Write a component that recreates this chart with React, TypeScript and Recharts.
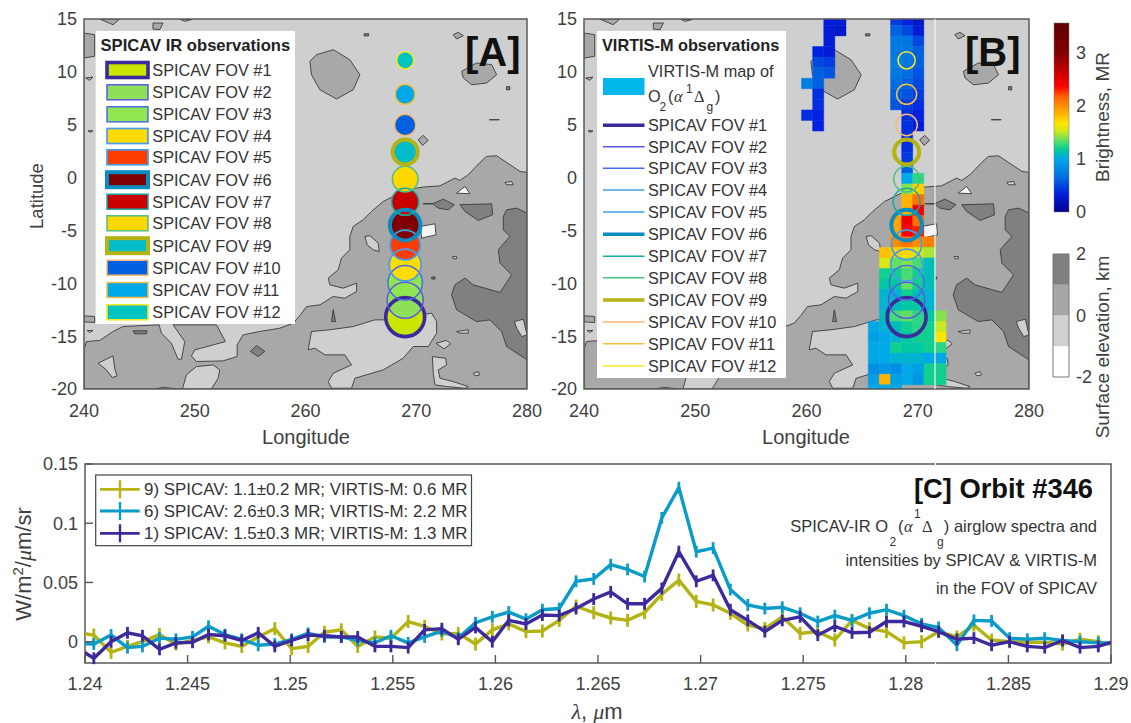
import {
  ComposedChart,
  ErrorBar,
  Line,
  ReferenceArea,
  ReferenceLine,
  Scatter,
  XAxis,
  YAxis,
} from "recharts";

const FONT = "'Liberation Sans', Arial, sans-serif";
const MATH = "'Liberation Serif', serif";
const INK = "#404040";

// ---- terrain contours [lon, lat] ----
const terrainMid = [
  [[280, 0.49], [279.37, 0.58], [278.16, 1.43], [277.26, 2.06], [276.35, 2], [275.75, 1.43], [274.7, 0.27], [273.95, -0.27], [273.49, -0.05], [272.14, -0.78], [270.63, -0.9], [269.13, -1.15], [267.02, -2.26], [265.96, -3.2], [265.21, -3.99], [264.31, -4.62], [264, -5.57], [264, -6.83], [263.25, -7.62], [262.95, -8.73], [262.05, -9.51], [262.2, -10.15], [263.4, -10.46], [264.61, -9.99], [264.61, -10.78], [263.55, -11.41], [262.5, -11.25], [261.3, -12.04], [260.09, -12.2], [259.49, -13.05], [258.89, -13.77], [257.68, -14.25], [255.87, -14.56], [254.37, -14.88], [253.83, -15.82], [253.83, -16.93], [252.56, -17.34], [250.15, -17.4], [249.7, -16.87], [250, -16.3], [252.77, -15.51], [251.96, -13.93], [248.04, -13.93], [249.1, -15.51], [248.8, -17.18], [248.49, -17.18], [247.89, -15.67], [246.99, -14.72], [246.78, -13.93], [243.52, -14.09], [242.62, -14.56], [241.42, -15.41], [240.21, -15.51], [240, -16.3], [240, -20], [280, -20], [280, 0.49]],
  [[260.39, 10.99], [260.99, 11.62], [262.5, 12.1], [264, 11.15], [264.91, 9.73], [264.31, 8.31], [262.8, 7.43], [261.3, 8.31], [260.54, 9.73], [260.39, 10.99]],
  [[274.1, 10.05], [275.45, 10.84], [276.81, 10.68], [277.26, 9.73], [276.35, 8.94], [275, 8.78], [274.25, 9.42], [274.1, 10.05]],
  [[241.42, 15], [243.22, 15], [242.62, 14.46], [241.42, 15]],
  [[246.23, 14.62], [247.14, 14.62], [246.84, 13.99], [246.23, 14.05], [246.23, 14.62]],
  [[248.64, 15], [249.7, 14.94], [249.1, 14.78], [248.64, 15]],
  [[273.34, 13.52], [273.79, 13.74], [274.25, 13.42], [273.64, 13.11], [273.34, 13.52]],
  [[270.18, 3.58], [270.63, 3.99], [271.08, 3.52], [270.57, 3.04], [270.18, 3.58]],
  [[240, 13.67], [240.96, 13.52], [240.96, 11.47], [240, 11.31], [240, 13.67]],
  [[240, -13.08], [240.96, -13.14], [240.96, -13.71], [240, -13.65], [240, -13.08]],
  [[240.15, 9.42], [240.81, 9.51], [240.51, 9.19], [240.15, 9.42]],
  [[240.36, 4.43], [240.81, 4.43], [240.57, 4.27], [240.36, 4.43]],
];
const terrainDark = [
  [[280, -17.24], [278.16, -15.98], [277.71, -14.56], [276.66, -13.46], [275.45, -13.62], [273.64, -12.51], [273.19, -11.09], [273.49, -10.15], [274.4, -9.51], [275.15, -10.15], [277.56, -10.87], [278.61, -9.2], [277.56, -8.09], [277.41, -6.83], [278.46, -5.57], [277.86, -4.94], [277.86, -3.68], [278.16, -3.05], [279.07, -2.89], [280, -3.36], [280, -17.24]],
  [[273.95, -2.57], [276.81, -2.48], [276.9, -3.52], [275.6, -4.06], [274.4, -3.2], [273.95, -2.57]],
  [[270.63, -2.48], [271.54, -2.45], [272.44, -2.04], [273.43, -2.57], [272.89, -3.05], [271.99, -2.89], [271.54, -2.51], [270.63, -2.48]],
  [[244.43, -14.5], [245.69, -14.5], [245.63, -14.78], [244.58, -14.78], [244.43, -14.5]],
  [[255.03, -16.45], [255.57, -15.89], [256.33, -16.45], [255.72, -16.93], [255.03, -16.45]],
  [[262.5, -12.51], [262.71, -13.62], [262.35, -13.62], [262.5, -12.51]],
  [[271.4, -9.4], [271.7, -9.4], [271.7, -9.6], [271.4, -9.6], [271.4, -9.4]],
  [[265.3, 13.6], [265.7, 13.6], [265.7, 13.4], [265.3, 13.4], [265.3, 13.6]],
  [[278.15, 8.6], [278.45, 8.6], [278.45, 8.3], [278.15, 8.3], [278.15, 8.6]],
  [[276.6, 5.47], [277.5, 5.47], [276.6, 5.47]],
];
const terrainLight = [
  [[241.27, -17.56], [242.62, -16.87], [242.77, -18.03], [242.98, -18.76], [242.56, -18.92], [242.02, -18.19], [241.27, -17.56]],
  [[248.89, -20], [249.25, -18.66], [250.15, -17.88], [251.66, -17.72], [252.26, -18.19], [252.11, -18.98], [251.5, -20], [248.89, -20]],
  [[246.48, -20], [247.14, -19.83], [248.34, -20], [246.48, -20]],
  [[260.24, -16.3], [260.54, -14.56], [262.2, -14.4], [264.31, -14.09], [266.26, -13.46], [267.32, -13.46], [271.39, -12.83], [271.84, -13.62], [271.84, -14.72], [271.08, -15.98], [269.73, -15.98], [268.82, -17.09], [267.02, -18.19], [264.46, -18.98], [264.16, -19.93], [262.35, -19.93], [262.05, -19.3], [262.5, -18.51], [264.16, -17.72], [263.55, -16.77], [261.75, -16.77], [260.84, -16.14], [260.24, -16.3]],
  [[278.85, -13.62], [279.67, -13.4], [280, -14.88], [279.52, -15.04], [279.07, -14.25], [278.85, -13.62]],
  [[273.64, -14.56], [274.7, -14.4], [274.7, -14.72], [273.95, -14.72], [273.64, -14.56]],
  [[271.78, -15.67], [272.74, -15.41], [273.1, -15.73], [272.5, -16.2], [271.78, -15.67]],
  [[275.15, -18.51], [275.6, -18.35], [275.75, -18.66], [275.3, -18.76], [275.15, -18.51]],
  [[271.45, -16.93], [272.65, -17.09], [272.74, -17.72], [271.99, -18.19], [272.14, -18.98], [273.34, -19.3], [274.7, -19.77], [274.4, -19.93], [272.74, -19.77], [271.69, -19.61], [271.54, -18.51], [271.45, -16.93]],
  [[273.28, -7.46], [273.64, -7.46], [273.64, -7.68], [273.34, -7.68], [273.28, -7.46]],
  [[265.36, -5.57], [265.81, -5.5], [266.57, -6.2], [266.66, -6.99], [266.11, -6.83], [265.57, -6.36], [265.36, -5.57]],
  [[278.01, -0.46], [278.61, -0.36], [278.76, -0.68], [278.16, -0.68], [278.01, -0.46]],
  [[240.27, -14.47], [240.81, -14.47], [240.51, -14.66], [240.27, -14.47]],
];
const terrainWhite = [
  [[270.39, -4.62], [271.69, -4.37], [271.78, -5.41], [270.48, -5.73], [270.39, -4.62]],
  [[273.64, -1.47], [274.4, -0.84], [274.85, -1.53], [273.64, -1.47]],
];

// ---- VIRTIS-M map: [lat top, lat bottom, first column lon, brightness in MR per column] ----
const virtisRows: [number, number, number, number[]][] = [
  [15, 14.4, 261.55, [0.3, 0.3]],
  [14.4, 13.4, 261.55, [0.3, 0.25]],
  [13.4, 12.4, 261.55, [0.3]],
  [12.4, 11.4, 260.55, [0.35, 0.3]],
  [11.4, 10.4, 260.55, [0.5, 0.45]],
  [10.4, 9.4, 260.55, [0.6, 0.55]],
  [9.4, 8.4, 259.55, [0.75, 0.6]],
  [8.4, 7.4, 260.55, [0.4]],
  [7.4, 6.4, 260.55, [0.4]],
  [6.4, 5.4, 259.55, [0.4, 0.35]],
  [5.4, 4.4, 260.55, [0.35]],
  [15, 14.4, 267.55, [0.45, 0.35, 0.22]],
  [14.4, 13.4, 267.55, [0.6, 0.5, 0.3]],
  [13.4, 12.4, 267.55, [0.7, 0.7, 0.5]],
  [12.4, 11.4, 267.55, [0.7, 0.7, 0.6]],
  [11.4, 10.4, 267.55, [0.75, 0.7, 0.6]],
  [10.4, 9.4, 267.55, [0.7, 0.65, 0.55]],
  [9.4, 8.4, 267.55, [0.65, 0.6, 0.5]],
  [8.4, 7.4, 267.55, [0.6, 0.55, 0.45]],
  [7.4, 6.4, 267.55, [0.55, 0.45, 0.4]],
  [6.4, 5.4, 268.55, [0.4, 0.35]],
  [5.4, 4.4, 268.55, [0.4, 0.3]],
  [4.4, 3.4, 268.55, [0.4]],
  [3.4, 2.4, 268.55, [0.4]],
  [2.4, 1.4, 268.55, [0.45]],
  [1.4, 0.4, 268.55, [0.6]],
  [0.4, -0.6, 268.55, [1.0, 1.25]],
  [-0.6, -1.6, 268.55, [1.4, 1.75]],
  [-1.6, -2.6, 268.55, [1.85, 2.1]],
  [-2.6, -3.6, 268.55, [1.85, 2.4]],
  [-3.6, -4.6, 267.55, [1.9, 2.45, 2.1]],
  [-4.6, -5.6, 267.55, [1.9, 2.4, 2.3]],
  [-5.6, -6.6, 267.55, [2.0, 2.1, 2.0, 2.05]],
  [-6.6, -7.6, 266.55, [1.8, 1.75, 1.7, 1.55, 1.45]],
  [-7.6, -8.6, 266.55, [1.55, 1.35, 1.4, 1.3, 1.1]],
  [-8.6, -9.6, 266.55, [1.2, 1.2, 1.3, 1.2, 1.1]],
  [-9.6, -10.6, 266.55, [1.15, 1.15, 1.35, 1.2, 1.1]],
  [-10.6, -11.6, 266.55, [1.05, 1.05, 1.2, 1.1, 1.05]],
  [-11.6, -12.6, 266.55, [1.05, 1.1, 1.15, 1.15, 1.05]],
  [-12.6, -13.6, 266.55, [1.1, 1.3, 1.35, 1.25, 1.15, 1.4]],
  [-13.6, -14.6, 265.55, [1.0, 1.05, 1.1, 1.2, 1.25, 1.2, 1.5]],
  [-14.6, -15.6, 265.55, [0.95, 1.0, 1.05, 1.15, 1.2, 1.2, 1.65]],
  [-15.6, -16.6, 265.55, [1.0, 1.0, 1.2, 1.15, 1.15, 1.2, 1.25]],
  [-16.6, -17.6, 265.55, [1.0, 1.0, 1.05, 1.05, 1.05, 1.0, 1.0]],
  [-17.6, -18.6, 265.55, [0.85, 0.9, 0.85, 1.0, 0.95, 1.2, 1.2]],
  [-18.6, -19.6, 265.55, [0.95, 1.85, 0.95, 1.0, 0.9, 1.2, 1.2]],
  [-19.6, -20, 265.55, [1.0, 1.0, 1.0]],
];

// colour scale of the brightness bar
const jetValues = [0, 0.34, 0.66, 1, 1.17, 1.32, 1.5, 1.66, 1.92, 2.17, 2.36, 2.67, 3, 3.55];
const jetColors = ["#00008f", "#0020e0", "#0070e0", "#00a8e8", "#00cc99", "#50dd70", "#c8e820", "#ffe600", "#ffa000", "#ff6000", "#ff0000", "#c00000", "#7f0000", "#600000"];

function hexToRgb(hex: string) {
  return [1, 3, 5].map((i) => parseInt(hex.slice(i, i + 2), 16));
}

function jet(v: number) {
  let i = 0;
  while (i < jetValues.length - 2 && v > jetValues[i + 1]) i++;
  const t = Math.min(1, Math.max(0, (v - jetValues[i]) / (jetValues[i + 1] - jetValues[i])));
  const a = hexToRgb(jetColors[i]);
  const b = hexToRgb(jetColors[i + 1]);
  const c = a.map((p, k) => Math.round(p + (b[k] - p) * t));
  return `rgb(${c[0]},${c[1]},${c[2]})`;
}

const virtisCells = virtisRows.flatMap(([top, bottom, lon0, values]) =>
  values.map((v, i) => ({ top, bottom, lon: lon0 + i, color: jet(v) }))
);

// ---- SPICAV fields of view, #1 to #12 ----
const fovLon = [269, 269, 269, 269, 269, 269, 269, 269, 269, 269, 269, 269];
const fovLat = [-13.2, -11.6, -9.95, -8.27, -6.38, -4.5, -2.29, -0.14, 2.42, 4.97, 7.88, 11.09];
const fovRadiusDeg = [1.77, 1.64, 1.57, 1.45, 1.36, 1.39, 1.23, 1.17, 1.14, 0.97, 0.91, 0.78];
const fovFill = ["#c8e600", "#8ee05a", "#90e650", "#ffdd00", "#ff3c00", "#7f0000", "#c80000", "#ffd800", "#00bcca", "#0060e0", "#00a8e8", "#00c4c0"];
const fovRing = ["#3c2a9c", "#5a5ae0", "#4a6ce8", "#4a9cf0", "#40a0e8", "#0a8cc0", "#1aa8a0", "#50c080", "#b3b313", "#f8b870", "#f8c040", "#f8e820"];
const fovWidth = [3.6, 1.5, 1.5, 1.7, 1.7, 4, 1.5, 1.5, 4, 1.5, 1.5, 1.5];
const fovLabels = ["SPICAV FOV #1", "SPICAV FOV #2", "SPICAV FOV #3", "SPICAV FOV #4", "SPICAV FOV #5", "SPICAV FOV #6", "SPICAV FOV #7", "SPICAV FOV #8", "SPICAV FOV #9", "SPICAV FOV #10", "SPICAV FOV #11", "SPICAV FOV #12"];
const fovTable = fovLon.map((lon, i) => ({ lon, lat: fovLat[i], rDeg: fovRadiusDeg[i], fill: fovFill[i], ring: fovRing[i], w: fovWidth[i] }));

// ---- spectra ----
const wavelengths = [1.2396, 1.24043, 1.24127, 1.24207, 1.2428, 1.24363, 1.24443, 1.24524, 1.24602, 1.24682, 1.24764, 1.24844, 1.24925, 1.25007, 1.25087, 1.25167, 1.25249, 1.25329, 1.25413, 1.25491, 1.25575, 1.25655, 1.25739, 1.25819, 1.25903, 1.25985, 1.26065, 1.26149, 1.26229, 1.26311, 1.26393, 1.26479, 1.26562, 1.26644, 1.26727, 1.26811, 1.26894, 1.26979, 1.27061, 1.27145, 1.2723, 1.27313, 1.27398, 1.27485, 1.27571, 1.27654, 1.27738, 1.27823, 1.27906, 1.27991, 1.28077, 1.2816, 1.28249, 1.28332, 1.28418, 1.28506, 1.28592, 1.28677, 1.28764, 1.28849, 1.28938, 1.29023];
const spectrum9 = [0.0076, 0.0056, -0.009, -0.004, 0, 0.006, -0.002, 0.001, 0.004, -0.001, -0.004, 0.004, 0.011, -0.006, -0.004, 0.008, 0.01, -0.004, 0.004, 0.003, 0.017, 0.013, 0.0065, 0.007, -0.002, 0.01, 0.015, 0.0085, 0.009, 0.018, 0.03, 0.0245, 0.02, 0.018, 0.0245, 0.04, 0.052, 0.034, 0.031, 0.024, 0.014, 0.011, 0.021, 0.007, 0.0085, 0.0014, 0.018, 0.011, 0.0085, -0.001, 0, 0.0085, 0.004, 0.014, 0.0014, 0, -0.0005, -0.0005, -0.002, 0.002, 0, -0.003];
const spectrum6 = [-0.0014, -0.002, 0.0056, -0.005, -0.004, 0.003, 0.002, 0.004, 0.013, 0.006, 0.002, -0.003, -0.002, 0.002, 0.007, 0.004, 0.004, 0.001, -0.001, 0.005, -0.001, 0.004, 0.009, 0.003, 0.016, 0.021, 0.025, 0.019, 0.027, 0.028, 0.051, 0.053, 0.065, 0.061, 0.055, 0.1045, 0.13, 0.076, 0.079, 0.044, 0.031, 0.028, 0.029, 0.024, 0.017, 0.022, 0.018, 0.024, 0.027, 0.022, 0.015, 0.012, -0.003, 0.018, 0.0175, 0.003, 0.002, 0.003, 0.001, 0, -0.001, -0.001];
const spectrum1 = [-0.005, -0.014, 0, 0.0075, 0.005, -0.0065, -0.001, -0.0005, 0.006, 0.005, 0.001, 0.0075, -0.004, 0.001, 0.0055, 0.005, 0.004, 0.004, -0.004, -0.004, -0.005, 0.01, 0.011, 0.002, 0.012, 0, 0.018, 0.015, 0.0225, 0.022, 0.028, 0.036, 0.042, 0.032, 0.032, 0.045, 0.076, 0.051, 0.056, 0.027, 0.018, 0.0085, 0.018, 0.021, 0.0055, 0.013, 0.0075, 0.008, 0.017, 0.017, 0.013, 0.0085, 0.002, 0.003, -0.003, 0, -0.004, -0.005, 0.001, -0.005, -0.004, 0.0005];
const spectrumErr = [0.0055, 0.005, 0.005];
const spectrumTicksX = [1.24, 1.245, 1.25, 1.255, 1.26, 1.265, 1.27, 1.275, 1.28, 1.285, 1.29];
const spectrumTicksY = [0, 0.05, 0.1, 0.15];
// the two end samples fall outside the frame, so they carry no error bar
const spectrumTable = wavelengths.map((wl, i) => {
  const inside = wl >= 1.24 && wl <= 1.29;
  return {
    wl,
    s9: spectrum9[i],
    s6: spectrum6[i],
    s1: spectrum1[i],
    e9: inside ? spectrumErr[0] : 0,
    e6: inside ? spectrumErr[1] : 0,
    e1: inside ? spectrumErr[2] : 0,
  };
});

const spectrumLegend = [
  { color: "#b3b313", text: "9) SPICAV: 1.1±0.2 MR; VIRTIS-M: 0.6 MR" },
  { color: "#0a9cc8", text: "6) SPICAV: 2.6±0.3 MR; VIRTIS-M: 2.2 MR" },
  { color: "#3c2a9c", text: "1) SPICAV: 1.5±0.3 MR; VIRTIS-M: 1.3 MR" },
];

const lonTicks = [240, 250, 260, 270, 280];
const latTicks = [-20, -15, -10, -5, 0, 5, 10, 15];
const barEnds = [{ x: 0 }, { x: 1 }];
const elevationBands = [
  { from: -2, to: -1, fill: "#ffffff" },
  { from: -1, to: 0, fill: "#d0d0d0" },
  { from: 0, to: 1, fill: "#a6a6a6" },
  { from: 1, to: 2, fill: "#808080" },
];

const MAP_TOP = 19;
const MAP_BOTTOM = 389;
const MAP_HEIGHT = 450;
const tickStyle = { fontSize: 18, fill: INK, fontFamily: FONT };

function noDot() {
  return <g />;
}

const toPoints = (poly: number[][]) => poly.map(([lon, lat]) => ({ lon, lat }));

function terrainSeries(polys: number[][][], fill: string, prefix: string) {
  return polys.map((poly, i) => (
    <Scatter
      key={prefix + i}
      data={toPoints(poly)}
      shape={noDot}
      line={{ stroke: "#3a3a3a", strokeWidth: 0.9, fill }}
      fill={fill}
      isAnimationActive={false}
    />
  ));
}

function MapPanel({ left, plotLeft, plotRight, width, filled, cells }: { left: number; plotLeft: number; plotRight: number; width: number; filled: boolean; cells: boolean }) {
  const base = { position: "absolute" as const, left, top: 0 };
  const mLeft = plotLeft - left;
  const mRight = left + width - plotRight;
  const mBottom = MAP_HEIGHT - MAP_BOTTOM;
  return (
    <>
      <div style={base}>
        <ComposedChart width={width} height={MAP_HEIGHT} margin={{ top: MAP_TOP, left: mLeft, right: mRight, bottom: mBottom }}>
          <XAxis hide dataKey="lon" type="number" domain={[240, 280]} allowDataOverflow />
          <YAxis hide dataKey="lat" type="number" domain={[-20, 15]} allowDataOverflow />
          <ReferenceArea x1={240} x2={280} y1={-20} y2={15} fill="#cfcfcf" fillOpacity={1} stroke="none" />
          {terrainSeries(terrainMid, "#a8a8a8", "mid")}
          {terrainSeries(terrainDark, "#808080", "dark")}
          {terrainSeries(terrainLight, "#cfcfcf", "light")}
          {terrainSeries(terrainWhite, "#f4f4f4", "white")}
        </ComposedChart>
      </div>
      <div style={base}>
        <ComposedChart width={width} height={MAP_HEIGHT} margin={{ top: MAP_TOP, left: mLeft - 44, right: mRight, bottom: mBottom - 40 }}>
          <XAxis dataKey="lon" type="number" domain={[240, 280]} ticks={lonTicks} interval={0} height={40} tick={tickStyle} tickLine={false} axisLine={false} tickSize={0} tickMargin={15} allowDataOverflow />
          <YAxis dataKey="lat" type="number" domain={[-20, 15]} ticks={latTicks} interval={0} width={44} tick={tickStyle} tickLine={false} axisLine={false} tickSize={0} tickMargin={7} allowDataOverflow />
          {cells &&
            virtisCells.map((c, i) => (
              <ReferenceArea key={i} x1={c.lon} x2={c.lon + 1} y1={c.bottom} y2={c.top} fill={c.color} fillOpacity={1} stroke={c.color} strokeWidth={0.4} />
            ))}
          {cells && <ReferenceLine x={271.55} stroke="#f4f4f4" strokeWidth={1.2} />}
          <ReferenceArea x1={240} x2={280} y1={-20} y2={15} fill="none" fillOpacity={0} stroke="#5a5a5a" strokeWidth={1.5} />
          {filled && (
            <Scatter
              data={fovTable}
              isAnimationActive={false}
              shape={(p: any) => <circle cx={p.cx} cy={p.cy} r={p.payload.rDeg * 11} fill={p.payload.fill} />}
            />
          )}
          <Scatter
            data={fovTable}
            isAnimationActive={false}
            shape={(p: any) => <circle cx={p.cx} cy={p.cy} r={p.payload.rDeg * 11} fill="none" stroke={p.payload.ring} strokeWidth={p.payload.w} />}
          />
        </ComposedChart>
      </div>
    </>
  );
}

function BrightnessBar() {
  return (
    <div style={{ position: "absolute", left: 1030, top: 0 }}>
      <ComposedChart width={70} height={240} data={barEnds} margin={{ top: 23, left: 24, right: 0, bottom: 28 }}>
        <defs>
          <linearGradient id="jetBar" x1="0" y1="1" x2="0" y2="0">
            {jetValues.map((v, i) => (
              <stop key={v} offset={v / 3.55} stopColor={jetColors[i]} />
            ))}
          </linearGradient>
        </defs>
        <XAxis hide dataKey="x" type="number" domain={[0, 1]} />
        <YAxis orientation="right" type="number" domain={[0, 3.55]} ticks={[0, 1, 2, 3]} interval={0} width={31} tick={tickStyle} tickLine={false} axisLine={false} tickSize={0} tickMargin={7} allowDataOverflow />
        <ReferenceArea x1={0} x2={1} y1={0} y2={3.55} fill="url(#jetBar)" fillOpacity={1} stroke="#777" strokeWidth={0.5} />
      </ComposedChart>
    </div>
  );
}

function ElevationBar() {
  return (
    <div style={{ position: "absolute", left: 1030, top: 240 }}>
      <ComposedChart width={70} height={160} data={barEnds} margin={{ top: 14, left: 23, right: 0, bottom: 23 }}>
        <XAxis hide dataKey="x" type="number" domain={[0, 1]} />
        <YAxis orientation="right" type="number" domain={[-2, 2]} ticks={[-2, 0, 2]} interval={0} width={31} tick={tickStyle} tickLine={false} axisLine={false} tickSize={0} tickMargin={7} allowDataOverflow />
        {elevationBands.map((b) => (
          <ReferenceArea key={b.from} x1={0} x2={1} y1={b.from} y2={b.to} fill={b.fill} fillOpacity={1} stroke="none" />
        ))}
        <ReferenceArea x1={0} x2={1} y1={-2} y2={2} fill="none" fillOpacity={0} stroke="#777" strokeWidth={1} />
      </ComposedChart>
    </div>
  );
}

function SpectraPanel() {
  return (
    <div style={{ position: "absolute", left: 0, top: 450 }}>
      <ComposedChart width={1131} height={273} data={spectrumTable} margin={{ top: 13, left: 25, right: 19, bottom: 20 }}>
        <XAxis dataKey="wl" type="number" domain={[1.24, 1.29]} ticks={spectrumTicksX} interval={0} height={40} tick={tickStyle} tickSize={-8} tickMargin={22} tickLine={{ stroke: "#555", strokeWidth: 1.4 }} axisLine={false} allowDataOverflow />
        <XAxis xAxisId="top" orientation="top" dataKey="wl" type="number" domain={[1.24, 1.29]} ticks={spectrumTicksX} interval={0} height={1} tick={false} tickSize={-8} tickLine={{ stroke: "#555", strokeWidth: 1.4 }} axisLine={false} allowDataOverflow />
        <YAxis type="number" domain={[-0.018, 0.15]} ticks={spectrumTicksY} interval={0} width={60} tick={tickStyle} tickSize={-8} tickMargin={15} tickLine={{ stroke: "#555", strokeWidth: 1.4 }} axisLine={false} allowDataOverflow />
        <YAxis yAxisId="right" orientation="right" type="number" domain={[-0.018, 0.15]} ticks={spectrumTicksY} interval={0} width={1} tick={false} tickSize={-8} tickLine={{ stroke: "#555", strokeWidth: 1.4 }} axisLine={false} allowDataOverflow />
        <ReferenceArea x1={1.24} x2={1.29} y1={-0.018} y2={0.15} fill="none" fillOpacity={0} stroke="#5a5a5a" strokeWidth={1.5} />
        <Line dataKey="s9" stroke="#b3b313" strokeWidth={3.4} dot={false} isAnimationActive={false}>
          <ErrorBar dataKey="e9" direction="y" width={0} stroke="#b3b313" strokeWidth={2.8} isAnimationActive={false} />
        </Line>
        <Line dataKey="s6" stroke="#0a9cc8" strokeWidth={3.4} dot={false} isAnimationActive={false}>
          <ErrorBar dataKey="e6" direction="y" width={0} stroke="#0a9cc8" strokeWidth={2.8} isAnimationActive={false} />
        </Line>
        <Line dataKey="s1" stroke="#3c2a9c" strokeWidth={3.4} dot={false} isAnimationActive={false}>
          <ErrorBar dataKey="e1" direction="y" width={0} stroke="#3c2a9c" strokeWidth={2.8} isAnimationActive={false} />
        </Line>
      </ComposedChart>
    </div>
  );
}

// legends, panel letters and axis captions
function Overlay() {
  const legendYA = [70, 92.3, 114.3, 136, 157.3, 179.7, 201.7, 223.3, 245.7, 267.7, 290, 312.3];
  const legendYB = [125.3, 146.7, 168.3, 190, 212, 234.3, 256.3, 277.7, 300, 322, 343.7, 366];
  const label = { fontFamily: FONT, fill: "#333" };
  return (
    <svg width={1131} height={723} style={{ position: "absolute", left: 0, top: 0, pointerEvents: "none" }}>
      {/* panel A legend */}
      <rect x={95.7} y={31} width={199.3} height={293} fill="#fff" />
      <text x={100.5} y={50.5} fontSize={16.6} fontWeight="bold" {...label} fill="#222">SPICAV IR observations</text>
      {fovLabels.map((t, i) => (
        <g key={t}>
          <rect x={107} y={legendYA[i] - 7.5} width={41} height={15} fill={fovFill[i]} stroke={fovRing[i]} strokeWidth={fovWidth[i]} />
          <text x={152.3} y={legendYA[i] + 6} fontSize={16.3} {...label}>{t}</text>
        </g>
      ))}
      <text x={465} y={66} fontSize={40} fontWeight="bold" fontFamily={FONT} fill="#111">[A]</text>

      {/* panel B legend */}
      <rect x={597} y={31} width={189} height={347} fill="#fff" />
      <text x={602} y={50.5} fontSize={16.3} fontWeight="bold" {...label} fill="#222">VIRTIS-M observations</text>
      <rect x={603} y={78} width={41.5} height={17} fill="#00b8ec" />
      <text x={648} y={76.5} fontSize={16.3} {...label}>VIRTIS-M map of</text>
      <text x={648} y={102} fontSize={16.3} {...label}>O</text>
      <text x={659.5} y={111} fontSize={12} {...label}>2</text>
      <text x={668} y={102} fontSize={16.3} {...label}>(</text>
      <text x={674} y={102} fontSize={16.3} fontFamily={MATH} fontStyle="italic" fill="#333">α</text>
      <text x={686} y={93} fontSize={12} {...label}>1</text>
      <text x={694} y={102} fontSize={16.3} fontFamily={MATH} fill="#333">Δ</text>
      <text x={706.5} y={111} fontSize={12} {...label}>g</text>
      <text x={715} y={102} fontSize={16.3} {...label}>)</text>
      {fovLabels.map((t, i) => (
        <g key={t}>
          <line x1={603} x2={644.5} y1={legendYB[i]} y2={legendYB[i]} stroke={fovRing[i]} strokeWidth={fovWidth[i] > 3 ? 3.5 : 1.5} />
          <text x={648} y={legendYB[i] + 6} fontSize={16.3} {...label}>{t}</text>
        </g>
      ))}
      <text x={965} y={66} fontSize={40} fontWeight="bold" fontFamily={FONT} fill="#111">[B]</text>

      {/* captions */}
      <text x={306} y={444} textAnchor="middle" fontSize={20} {...label} fill={INK}>Longitude</text>
      <text x={806} y={444} textAnchor="middle" fontSize={20} {...label} fill={INK}>Longitude</text>
      <text transform="translate(43,196) rotate(-90)" textAnchor="middle" fontSize={18.5} {...label} fill={INK}>Latitude</text>
      <text transform="translate(1109,117) rotate(-90)" textAnchor="middle" fontSize={19} {...label} fill={INK}>Brightness, MR</text>
      <text transform="translate(1109,347) rotate(-90)" textAnchor="middle" fontSize={19} {...label} fill={INK}>Surface elevation, km</text>

      {/* panel C legend */}
      <rect x={95.7} y={475} width={375.8} height={70.7} fill="#fff" stroke="#444" strokeWidth={1.2} />
      {spectrumLegend.map((e, i) => {
        const y = [489.3, 511, 533.3][i];
        return (
          <g key={e.text}>
            <line x1={100} x2={139.7} y1={y} y2={y} stroke={e.color} strokeWidth={2.8} />
            <line x1={120} x2={120} y1={y - 9} y2={y + 9} stroke={e.color} strokeWidth={2.4} />
            <text x={144} y={y + 6} fontSize={16.9} {...label}>{e.text}</text>
          </g>
        );
      })}
      <text x={914} y={498} fontSize={27.3} fontWeight="bold" fontFamily={FONT} fill="#111">[C] Orbit #346</text>

      <text x={888} y={532} textAnchor="end" fontSize={16.5} {...label}>SPICAV-IR O</text>
      <text x={889.5} y={546} fontSize={12} {...label}>2</text>
      <text x={898} y={532} fontSize={16.5} {...label}>(</text>
      <text x={904} y={532} fontSize={16.5} fontFamily={MATH} fontStyle="italic" fill="#333">α</text>
      <text x={914} y={518} fontSize={12} {...label}>1</text>
      <text x={922} y={532} fontSize={16.5} fontFamily={MATH} fill="#333">Δ</text>
      <text x={937} y={546} fontSize={12} {...label}>g</text>
      <text x={1097} y={532} textAnchor="end" fontSize={16.5} {...label}>) airglow spectra and</text>
      <text x={1097} y={565.5} textAnchor="end" fontSize={16.5} {...label}>intensities by SPICAV &amp; VIRTIS-M</text>
      <text x={1097} y={593.5} textAnchor="end" fontSize={16.5} {...label}>in the FOV of SPICAV</text>

      <text x={597} y={719} textAnchor="middle" fontSize={22} fontFamily={FONT} fill={INK}>
        <tspan fontFamily={MATH} fontStyle="italic">λ</tspan>, <tspan fontFamily={MATH} fontStyle="italic">μ</tspan>m
      </text>
      <text transform="translate(31,564) rotate(-90)" textAnchor="middle" fontSize={22} fontFamily={FONT} fill={INK}>
        W/m<tspan dy={-8} fontSize={15}>2</tspan><tspan dy={8}>/</tspan><tspan fontFamily={MATH} fontStyle="italic">μ</tspan>m/sr
      </text>

      {/* scan seam crossing the frame of panel C */}
      <line x1={935.5} x2={935.5} y1={462} y2={466} stroke="#f4f4f4" strokeWidth={1.2} />
      <line x1={935.5} x2={935.5} y1={661} y2={665} stroke="#f4f4f4" strokeWidth={1.2} />
    </svg>
  );
}

export default function App() {
  return (
    <div style={{ position: "absolute", left: 0, top: 0, width: 1131, height: 723, background: "#fff", overflow: "hidden" }}>
      <MapPanel left={0} plotLeft={84} plotRight={527} width={545} filled cells={false} />
      <MapPanel left={540} plotLeft={584} plotRight={1029} width={520} filled={false} cells />
      <BrightnessBar />
      <ElevationBar />
      <SpectraPanel />
      <Overlay />
    </div>
  );
}
